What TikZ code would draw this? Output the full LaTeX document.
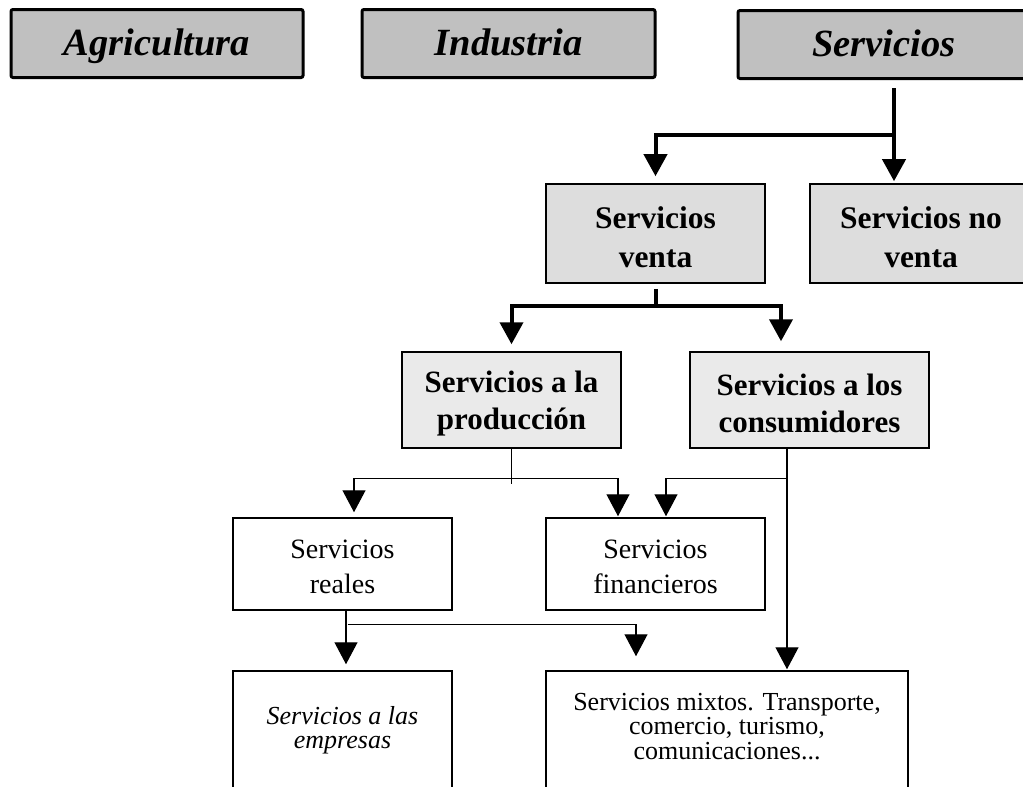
\documentclass[tikz,border=0pt]{standalone}
\usepackage{fontspec}
\setmainfont{Liberation Serif}
\usetikzlibrary{arrows.meta}
\definecolor{topgray}{RGB}{192,192,192}
\definecolor{midgray}{RGB}{221,221,221}
\definecolor{lowgray}{RGB}{234,234,234}
\newcommand{\lift}[1]{\rule{0pt}{#1}}

\begin{document}
\begin{tikzpicture}[x=1pt, y=-1pt, >={Triangle[width=23pt,length=22pt]},
  sector/.style={draw, line width=3pt, fill=topgray, rounded corners=2pt, inner sep=0pt,
    minimum height=68pt, text height=32pt, text depth=9pt,
    font=\fontsize{38.5}{46}\selectfont\bfseries\itshape},
  venbox/.style={draw, line width=1.6pt, fill=midgray, inner sep=0pt, align=center,
    minimum width=219pt, minimum height=99pt, font=\fontsize{31.5}{39}\selectfont\bfseries},
  subbox/.style={draw, line width=1.5pt, fill=lowgray, inner sep=0pt, align=center,
    minimum height=96pt, font=\fontsize{31}{37}\selectfont\bfseries},
  leafbox/.style={draw, line width=1.5pt, inner sep=0pt, align=center,
    minimum width=219pt, minimum height=92pt, font=\fontsize{28}{35}\selectfont},
  endbox/.style={draw, line width=1.5pt, inner sep=0pt, align=center,
    minimum height=118pt, font=\fontsize{26}{24.5}\selectfont},
  thk/.style={line width=4pt},
  thn/.style={line width=1.3pt}]

\clip (0,0) rectangle (1023,787);

\node[sector, minimum width=292pt] (agri) at (157,43.5) {Agricultura};
\node[sector, minimum width=293pt] (indu) at (508.5,43.5) {Industria};
\node[sector, minimum width=292pt] (serv) at (884,44.5) {Servicios};

\node[venbox] (venta) at (655.5,233.5) {\lift{29pt}Servicios\\venta};
\node[venbox, minimum width=222pt] (noventa) at (921,233.5) {\lift{29pt}Servicios no\\venta};

\node[subbox, minimum width=219pt] (prod) at (511.5,400) {\lift{29pt}Servicios a la\\producción};
\node[subbox, minimum width=239pt] (cons) at (809.5,400) {\lift{29pt}Servicios a los\\consumidores};

\node[leafbox] (reales) at (342.5,564) {\lift{25pt}Servicios\\reales};
\node[leafbox] (finan) at (655.5,564) {\lift{25pt}Servicios\\financieros};

\node[endbox, minimum width=219pt, font=\fontsize{26}{24.5}\selectfont\itshape] (empresas) at (342.5,730) {Servicios a las\\empresas};
\node[endbox, minimum width=362pt, text depth=8pt] (mixtos) at (727,730) {Servicios mixtos. Transporte,\\comercio, turismo,\\comunicaciones...};

\draw[thk, ->] ([xshift=10pt,yshift=-8pt]serv.south) -- coordinate[pos=.5] (j1) ([xshift=-27pt,yshift=2pt]noventa.north);
\draw[thk, ->] (j1) -| ([yshift=7pt]venta.north);

\draw[thk] ([yshift=-5pt]venta.south) -- ++(0,17) coordinate (j2);
\draw[thk, ->] (j2) -| ([yshift=7pt]prod.north);
\draw[thk, ->] (j2) -| ([xshift=-28.5pt,yshift=10pt]cons.north);

\draw[thn] (prod.south) -- ++(0,30) coordinate (j3) -- ++(0,5);
\draw[thn, ->] (j3) -| ([xshift=11.5pt,yshift=5pt]reales.north);
\draw[thn, ->] (j3) -| ([xshift=-37.5pt,yshift=1pt]finan.north);

\draw[thn, ->] ([xshift=-22.5pt]cons.south) -- ([xshift=60pt,yshift=1pt]mixtos.north);
\draw[thn, ->] ([xshift=-22.5pt,yshift=-30pt]cons.south) -| ([xshift=10.5pt,yshift=1pt]finan.north);

\draw[thn, ->] ([xshift=3.5pt]reales.south) -- ([xshift=3.5pt,yshift=6pt]empresas.north);
\draw[thn, ->] ([xshift=5pt,yshift=-14pt]reales.south) -| ([xshift=-91pt,yshift=14pt]mixtos.north);

\end{tikzpicture}
\end{document}
